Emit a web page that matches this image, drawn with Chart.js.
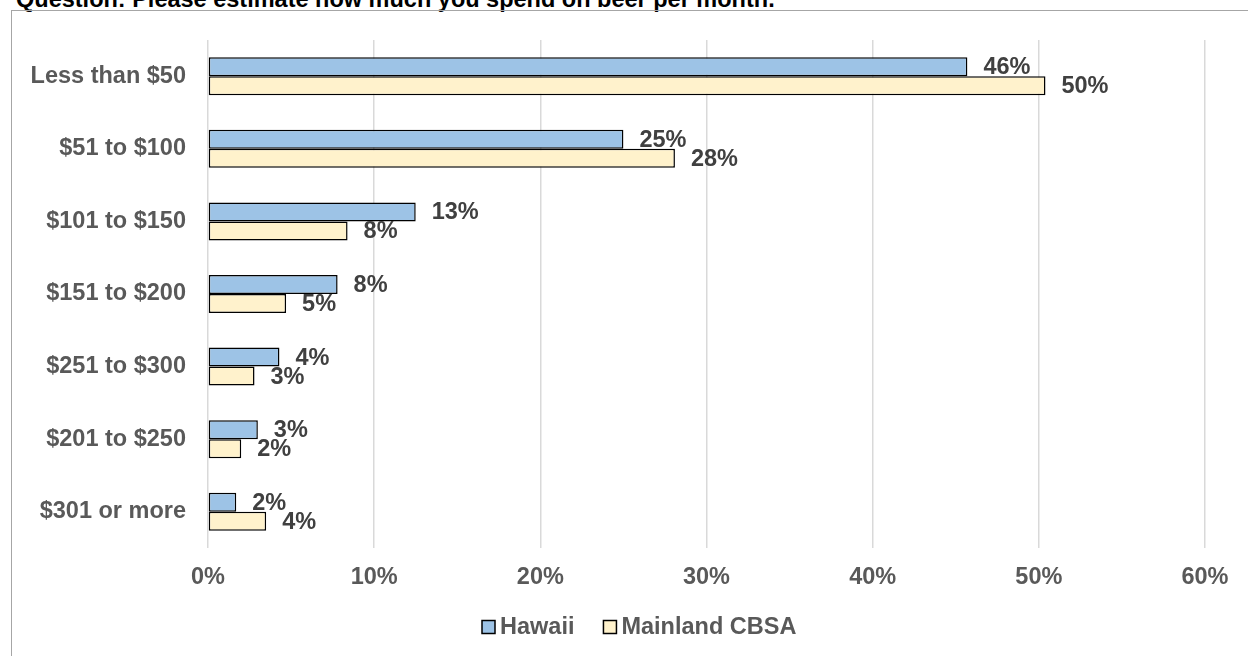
<!DOCTYPE html>
<html>
<head>
<meta charset="utf-8">
<script src="https://cdn.jsdelivr.net/npm/chart.js@4/dist/chart.umd.min.js"></script>
<style>
  html, body { margin: 0; padding: 0; background: #ffffff; overflow: hidden; }
  body { width: 1248px; height: 656px; position: relative; }
  #title {
    position: absolute; left: 16px; top: -13px;
    font: bold 23.5px "Liberation Sans", Arial, sans-serif;
    line-height: 24px; color: #000000; white-space: nowrap;
  }
  #frame {
    position: absolute; left: 11px; top: 10px;
    width: 1300px; height: 700px;
    border-left: 1.5px solid #a6a6a6; border-top: 1.5px solid #a6a6a6;
  }
  #chart { position: absolute; left: 0; top: 0; }
</style>
</head>
<body>
<div id="title">Question: Please estimate how much you spend on beer per month.</div>
<div id="frame"></div>
<canvas id="chart" width="1248" height="656"></canvas>
<script>
// Monthly beer spending brackets, in the order they are listed
const categories = [
  'Less than $50',
  '$51 to $100',
  '$101 to $150',
  '$151 to $200',
  '$251 to $300',
  '$201 to $250',
  '$301 or more'
];

// Share of respondents (%) in each bracket
const hawaii       = [45.7, 25.0, 12.5, 7.8, 4.3, 3.0, 1.7];
const mainlandCbsa = [50.4, 28.1, 8.4, 4.7, 2.8, 2.0, 3.5];

const seriesNames = ['Hawaii', 'Mainland CBSA'];
const xTicks = [0, 10, 20, 30, 40, 50, 60];

const FONT_FAMILY = '"Liberation Sans", Arial, sans-serif';
const FONT_SIZE = 23.5;
const AXIS_COLOR = '#595959';
const LABEL_COLOR = '#404040';

// Percentage labels written just past the end of each bar
const barValueLabels = {
  id: 'barValueLabels',
  afterDatasetsDraw(chart) {
    const ctx = chart.ctx;
    ctx.save();
    ctx.font = `bold ${FONT_SIZE}px ${FONT_FAMILY}`;
    ctx.fillStyle = LABEL_COLOR;
    ctx.textAlign = 'left';
    ctx.textBaseline = 'middle';
    chart.data.datasets.forEach((ds, di) => {
      const meta = chart.getDatasetMeta(di);
      meta.data.forEach((bar, i) => {
        const v = ds.data[i];
        ctx.fillText(Math.round(v) + '%', bar.x + 16, bar.y + 1);
      });
    });
    ctx.restore();
  }
};

// Legend row below the axis: outlined swatch followed by series name
const swatchLegend = {
  id: 'swatchLegend',
  afterDraw(chart) {
    const ctx = chart.ctx;
    const box = 13, gap = 5, itemGap = 29, cy = 627, cx = 639;
    ctx.save();
    ctx.font = `bold ${FONT_SIZE}px ${FONT_FAMILY}`;
    const items = chart.data.datasets.map(ds => ({
      label: ds.label, fill: ds.backgroundColor, w: ctx.measureText(ds.label).width
    }));
    const total = items.reduce((s, it) => s + box + gap + it.w, 0) + itemGap * (items.length - 1);
    let x = Math.round(cx - total / 2);
    items.forEach(it => {
      ctx.fillStyle = it.fill;
      ctx.fillRect(x, cy - box / 2, box, box);
      ctx.strokeStyle = '#000000';
      ctx.lineWidth = 1.5;
      ctx.strokeRect(x, cy - box / 2, box, box);
      ctx.fillStyle = AXIS_COLOR;
      ctx.textAlign = 'left';
      ctx.textBaseline = 'middle';
      ctx.fillText(it.label, x + box + gap, cy + 1);
      x += box + gap + it.w + itemGap;
    });
    ctx.restore();
  }
};

new Chart(document.getElementById('chart'), {
  type: 'bar',
  data: {
    labels: categories,
    datasets: [
      {
        label: seriesNames[0],
        data: hawaii,
        backgroundColor: '#9dc3e6',
        borderColor: '#000000',
        borderWidth: 1.5,
        borderSkipped: false
      },
      {
        label: seriesNames[1],
        data: mainlandCbsa,
        backgroundColor: '#fff2cc',
        borderColor: '#000000',
        borderWidth: 1.5,
        borderSkipped: false
      }
    ]
  },
  options: {
    indexAxis: 'y',
    responsive: false,
    animation: false,
    layout: { padding: { left: 0, right: 43, top: 40, bottom: 68 } },
    datasets: { bar: { categoryPercentage: 0.524, barPercentage: 1.0 } },
    plugins: {
      legend: { display: false },
      tooltip: { enabled: false }
    },
    scales: {
      x: {
        min: 0,
        max: 60,
        afterBuildTicks(scale) { scale.ticks = xTicks.map(v => ({ value: v })); },
        afterFit(scale) { scale.height = 40; },
        grid: { color: '#d9d9d9', lineWidth: 1.5, drawTicks: false },
        border: { display: false },
        ticks: {
          padding: 15,
          color: AXIS_COLOR,
          font: { family: FONT_FAMILY, size: FONT_SIZE, weight: 'bold' },
          callback: v => v + '%'
        }
      },
      y: {
        afterFit(scale) { scale.width = 208; },
        grid: { display: false, drawTicks: false },
        border: { display: false },
        ticks: {
          padding: 22,
          color: AXIS_COLOR,
          font: { family: FONT_FAMILY, size: FONT_SIZE, weight: 'bold' }
        }
      }
    }
  },
  plugins: [barValueLabels, swatchLegend]
});
</script>
</body>
</html>
